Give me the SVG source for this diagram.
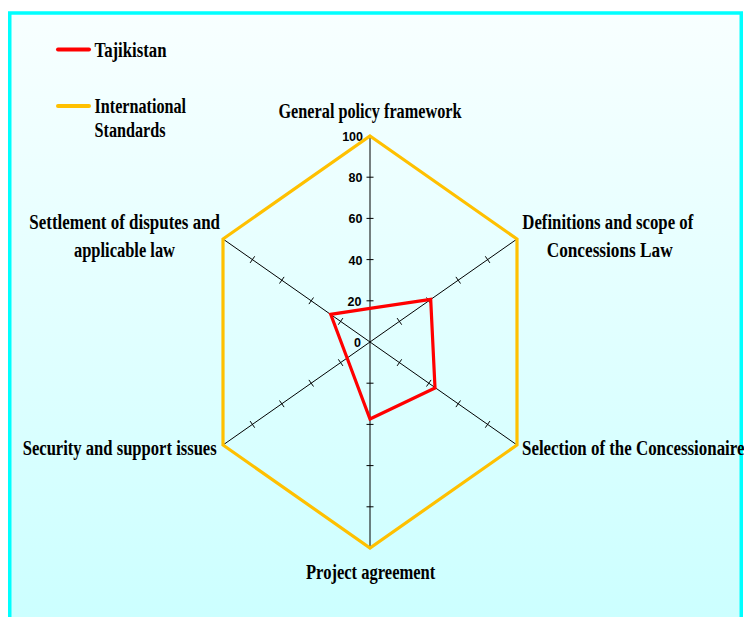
<svg xmlns="http://www.w3.org/2000/svg" width="744" height="617" viewBox="0 0 744 617">
<defs>
<linearGradient id="bg" x1="0" y1="13" x2="0" y2="617" gradientUnits="userSpaceOnUse">
<stop offset="0" stop-color="#F8FFFF"/>
<stop offset="1" stop-color="#CCFFFF"/>
</linearGradient>
<style>
.lbl{font-family:"Liberation Serif","Times New Roman",serif;font-weight:bold;font-size:20px;fill:#000}
.num{font-family:"Liberation Sans",Arial,sans-serif;font-weight:bold;font-size:12.5px;fill:#000;text-anchor:end}
.axis{stroke:#000;stroke-width:1;fill:none}
.std{stroke:#FFC000;stroke-width:3.2;fill:none;stroke-linejoin:miter}
.taj{stroke:#FF0000;stroke-width:3.2;fill:none;stroke-linejoin:miter}
</style>
</defs>
<rect x="0" y="0" width="744" height="617" fill="#FFFFFF"/>
<rect x="9.75" y="13" width="731.5" height="620" fill="url(#bg)" stroke="#00FFFF" stroke-width="3.5"/>

<g id="legend">
<line x1="58" y1="49.5" x2="89" y2="49.5" stroke="#FF0000" stroke-width="4" stroke-linecap="round"/>
<text class="lbl" x="94.5" y="56.5" textLength="72" lengthAdjust="spacingAndGlyphs">Tajikistan</text>
<line x1="58" y1="106" x2="89" y2="106" stroke="#FFC000" stroke-width="4" stroke-linecap="round"/>
<text class="lbl" x="94.5" y="112.5" textLength="91.5" lengthAdjust="spacingAndGlyphs">International</text>
<text class="lbl" x="94.5" y="137.3" textLength="71" lengthAdjust="spacingAndGlyphs">Standards</text>
</g>

<g id="axes">
<path class="axis" d="M370,136 V548 M223,239 L517,445 M223,445 L517,239"/>
<path class="axis" d="M366.5,300.8 H373.5 M366.5,259.6 H373.5 M366.5,218.4 H373.5 M366.5,177.2 H373.5 M366.5,383.2 H373.5 M366.5,424.4 H373.5 M366.5,465.6 H373.5 M366.5,506.8 H373.5"/>
<path class="axis" d="M397.1,318.1 L401.7,324.7 M426.5,297.5 L431.1,304.1 M455.9,276.9 L460.5,283.5 M485.3,256.3 L489.9,262.9"/>
<path class="axis" d="M338.3,359.3 L342.9,365.9 M308.9,379.9 L313.5,386.5 M279.5,400.5 L284.1,407.1 M250.1,421.1 L254.7,427.7"/>
<path class="axis" d="M401.7,359.3 L397.1,365.9 M431.1,379.9 L426.5,386.5 M460.5,400.5 L455.9,407.1 M489.9,421.1 L485.3,427.7"/>
<path class="axis" d="M342.9,318.1 L338.3,324.7 M313.5,297.5 L308.9,304.1 M284.1,276.9 L279.5,283.5 M254.7,256.3 L250.1,262.9"/>
<text class="num" x="363" y="141">100</text>
<text class="num" x="362.5" y="182.2">80</text>
<text class="num" x="362.5" y="223.4">60</text>
<text class="num" x="362.5" y="264.6">40</text>
<text class="num" x="361.5" y="305.8">20</text>
<text class="num" x="361" y="346.5">0</text>
</g>

<g id="series-standards">
<polygon class="std" points="370,136 517,239 517,445 370,548 223,445 223,239"/>
</g>
<g id="series-tajikistan">
<polygon class="taj" points="370,308.4 430.7,299.4 435,388 370,419 347.1,358 330.7,314.3"/>
</g>

<g id="labels">
<text id="lbl-general" class="lbl" x="278.5" y="118" textLength="183" lengthAdjust="spacingAndGlyphs">General policy framework</text>
<text id="lbl-definitions" class="lbl" x="522.3" y="229" textLength="171" lengthAdjust="spacingAndGlyphs">Definitions and scope of</text>
<text class="lbl" x="546.7" y="257" textLength="126" lengthAdjust="spacingAndGlyphs">Concessions Law</text>
<text id="lbl-selection" class="lbl" transform="translate(522,455) scale(0.845,1)" x="0" y="0">Selection of the Concessionaire</text>
<text id="lbl-project" class="lbl" x="306" y="579" textLength="129.3" lengthAdjust="spacingAndGlyphs">Project agreement</text>
<text id="lbl-security" class="lbl" x="22.7" y="455" textLength="194" lengthAdjust="spacingAndGlyphs">Security and support issues</text>
<text id="lbl-settlement" class="lbl" x="29.3" y="229" textLength="190.7" lengthAdjust="spacingAndGlyphs">Settlement of disputes and</text>
<text class="lbl" x="74" y="257" textLength="101" lengthAdjust="spacingAndGlyphs">applicable law</text>
</g>
</svg>
